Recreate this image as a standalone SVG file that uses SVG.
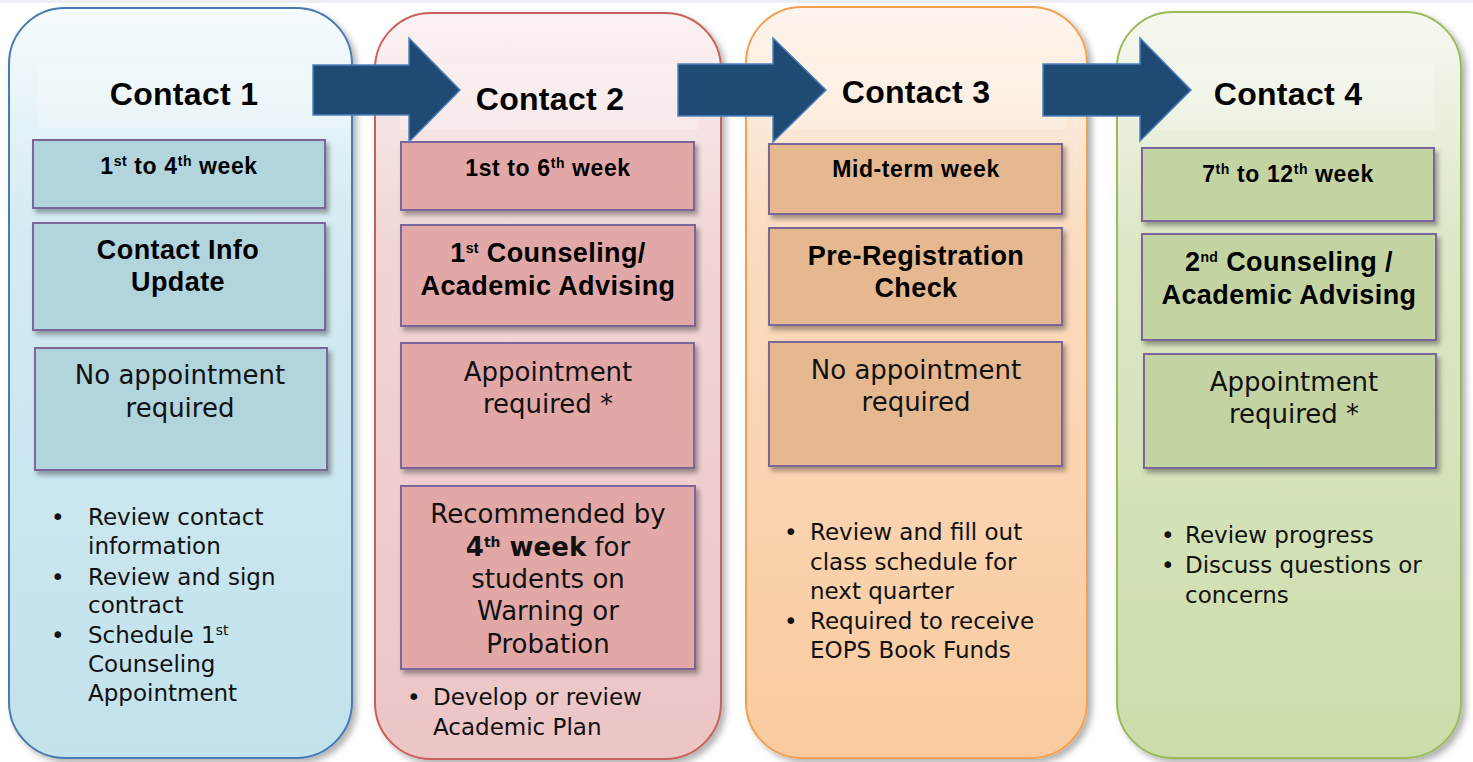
<svg xmlns="http://www.w3.org/2000/svg" width="1473" height="762" viewBox="0 0 1473 762">
<defs>
<linearGradient id="g1" x1="0" y1="0" x2="0" y2="1"><stop offset="0" stop-color="#f6fbfd"/><stop offset="0.3" stop-color="#d3ebf2"/><stop offset="1" stop-color="#c2e2ec"/></linearGradient>
<linearGradient id="g2" x1="0" y1="0" x2="0" y2="1"><stop offset="0" stop-color="#fbf2f2"/><stop offset="0.3" stop-color="#f1d6d6"/><stop offset="1" stop-color="#ecc5c5"/></linearGradient>
<linearGradient id="g3" x1="0" y1="0" x2="0" y2="1"><stop offset="0" stop-color="#fef5ee"/><stop offset="0.3" stop-color="#fbdcc0"/><stop offset="1" stop-color="#facb9f"/></linearGradient>
<linearGradient id="g4" x1="0" y1="0" x2="0" y2="1"><stop offset="0" stop-color="#f6f8f1"/><stop offset="0.3" stop-color="#dde8c8"/><stop offset="1" stop-color="#ccdcaa"/></linearGradient>
<filter id="psh" x="-10%" y="-5%" width="125%" height="115%"><feDropShadow dx="4" dy="4" stdDeviation="3" flood-color="#000" flood-opacity="0.3"/></filter>
<filter id="bsh" x="-10%" y="-10%" width="125%" height="135%"><feDropShadow dx="3" dy="4" stdDeviation="2.5" flood-color="#000" flood-opacity="0.35"/></filter>
</defs>
<style>
.bx{stroke:#7a6699;stroke-width:2;filter:url(#bsh)}
.b1{fill:#b2d4dd}.b2{fill:#e2a8a7}.b3{fill:#e6b88f}.b4{fill:#c3d4a2}
.ttl{font-family:"Liberation Sans",Arial,sans-serif;font-weight:bold;font-size:32px;letter-spacing:0.3px;fill:#000;text-anchor:middle}
.hd{font-family:"Liberation Sans",Arial,sans-serif;font-weight:bold;font-size:27px;letter-spacing:0.4px;fill:#000;text-anchor:middle}
.wk{font-family:"Liberation Sans",Arial,sans-serif;font-weight:bold;font-size:23px;letter-spacing:0.6px;fill:#000;text-anchor:middle}
.bt{font-family:"DejaVu Sans",sans-serif;font-size:26px;fill:#111;text-anchor:middle}
.li{font-family:"DejaVu Sans",sans-serif;font-size:23px;fill:#111}
.sup{font-size:14px}
.hdr{fill:#ffffff;opacity:0.22}
.arr{fill:#1f4a74;stroke:#4f81bd;stroke-width:1.5}
</style>
<rect x="0" y="0" width="1473" height="3" fill="#eceef2"/>

<g id="panel1">
<rect x="9" y="8" width="343" height="750" rx="56" ry="56" fill="url(#g1)" stroke="#4a7ab0" stroke-width="2" filter="url(#psh)"/>
<rect class="hdr" x="37" y="62" width="313" height="66"/>
<text class="ttl" x="184" y="105">Contact 1</text>
<rect class="bx b1" x="33" y="140" width="292" height="68"/>
<text class="wk" x="179" y="174">1<tspan class="sup" dy="-8">st</tspan><tspan dy="8"> to 4</tspan><tspan class="sup" dy="-8">th</tspan><tspan dy="8"> week</tspan></text>
<rect class="bx b1" x="33" y="223" width="292" height="107"/>
<text class="hd" x="178" y="259">Contact Info</text>
<text class="hd" x="178" y="291">Update</text>
<rect class="bx b1" x="35" y="348" width="292" height="122"/>
<text class="bt" x="180" y="384">No appointment</text>
<text class="bt" x="180" y="417">required</text>
<text class="li" x="51" y="525">•</text><text class="li" x="88" y="525">Review contact</text>
<text class="li" x="88" y="554">information</text>
<text class="li" x="51" y="585">•</text><text class="li" x="88" y="585">Review and sign</text>
<text class="li" x="88" y="613">contract</text>
<text class="li" x="51" y="643">•</text><text class="li" x="88" y="643">Schedule 1<tspan class="sup" dy="-8">st</tspan></text>
<text class="li" x="88" y="672">Counseling</text>
<text class="li" x="88" y="701">Appointment</text>
</g>

<g id="panel2">
<rect x="375" y="13" width="346" height="746" rx="56" ry="56" fill="url(#g2)" stroke="#c9605c" stroke-width="2" filter="url(#psh)"/>
<rect class="hdr" x="400" y="64" width="298" height="66"/>
<text class="ttl" x="550" y="110">Contact 2</text>
<rect class="bx b2" x="401" y="142" width="293" height="68"/>
<text class="wk" x="548" y="176">1st to 6<tspan class="sup" dy="-8">th</tspan><tspan dy="8"> week</tspan></text>
<rect class="bx b2" x="401" y="225" width="294" height="101"/>
<text class="hd" x="548" y="262">1<tspan class="sup" dy="-9">st</tspan><tspan dy="9"> Counseling/</tspan></text>
<text class="hd" x="548" y="295">Academic Advising</text>
<rect class="bx b2" x="401" y="343" width="293" height="125"/>
<text class="bt" x="548" y="381">Appointment</text>
<text class="bt" x="548" y="413">required *</text>
<rect class="bx b2" x="401" y="486" width="294" height="183"/>
<text class="bt" x="548" y="523">Recommended by</text>
<text class="bt" x="548" y="556"><tspan font-weight="bold">4</tspan><tspan font-weight="bold" class="sup" dy="-9">th</tspan><tspan font-weight="bold" dy="9"> week</tspan> for</text>
<text class="bt" x="548" y="588">students on</text>
<text class="bt" x="548" y="620">Warning or</text>
<text class="bt" x="548" y="653">Probation</text>
<text class="li" x="407" y="705">•</text><text class="li" x="433" y="705">Develop or review</text>
<text class="li" x="433" y="735">Academic Plan</text>
</g>

<g id="panel3">
<rect x="746" y="7" width="341" height="751" rx="56" ry="56" fill="url(#g3)" stroke="#f4a052" stroke-width="2" filter="url(#psh)"/>
<rect class="hdr" x="770" y="63" width="296" height="66"/>
<text class="ttl" x="916" y="103">Contact 3</text>
<rect class="bx b3" x="769" y="144" width="293" height="70"/>
<text class="wk" x="916" y="177">Mid-term week</text>
<rect class="bx b3" x="769" y="228" width="293" height="97"/>
<text class="hd" x="916" y="265">Pre-Registration</text>
<text class="hd" x="916" y="297">Check</text>
<rect class="bx b3" x="769" y="342" width="293" height="124"/>
<text class="bt" x="916" y="379">No appointment</text>
<text class="bt" x="916" y="411">required</text>
<text class="li" x="784" y="540">•</text><text class="li" x="810" y="540">Review and fill out</text>
<text class="li" x="810" y="570">class schedule for</text>
<text class="li" x="810" y="599">next quarter</text>
<text class="li" x="784" y="629">•</text><text class="li" x="810" y="629">Required to receive</text>
<text class="li" x="810" y="658">EOPS Book Funds</text>
</g>

<g id="panel4">
<rect x="1117" y="12" width="344" height="746" rx="56" ry="56" fill="url(#g4)" stroke="#9bbb59" stroke-width="2" filter="url(#psh)"/>
<rect class="hdr" x="1140" y="64" width="295" height="66"/>
<text class="ttl" x="1288" y="105">Contact 4</text>
<rect class="bx b4" x="1142" y="148" width="292" height="73"/>
<text class="wk" x="1288" y="182">7<tspan class="sup" dy="-8">th</tspan><tspan dy="8"> to 12</tspan><tspan class="sup" dy="-8">th</tspan><tspan dy="8"> week</tspan></text>
<rect class="bx b4" x="1142" y="234" width="294" height="106"/>
<text class="hd" x="1289" y="271">2<tspan class="sup" dy="-9">nd</tspan><tspan dy="9"> Counseling /</tspan></text>
<text class="hd" x="1289" y="304">Academic Advising</text>
<rect class="bx b4" x="1144" y="354" width="292" height="114"/>
<text class="bt" x="1294" y="391">Appointment</text>
<text class="bt" x="1294" y="423">required *</text>
<text class="li" x="1161" y="543">•</text><text class="li" x="1185" y="543">Review progress</text>
<text class="li" x="1161" y="573">•</text><text class="li" x="1185" y="573">Discuss questions or</text>
<text class="li" x="1185" y="603">concerns</text>
</g>

<g id="connectors">
<path class="arr" d="M313,65 H409 V38 L460,90 L409,142 V115 H313 Z"/>
<path class="arr" d="M678,64 H773 V38 L826,90 L773,142 V116 H678 Z"/>
<path class="arr" d="M1043,64 H1140 V38 L1191,90 L1140,141 V116 H1043 Z"/>
</g>
</svg>
